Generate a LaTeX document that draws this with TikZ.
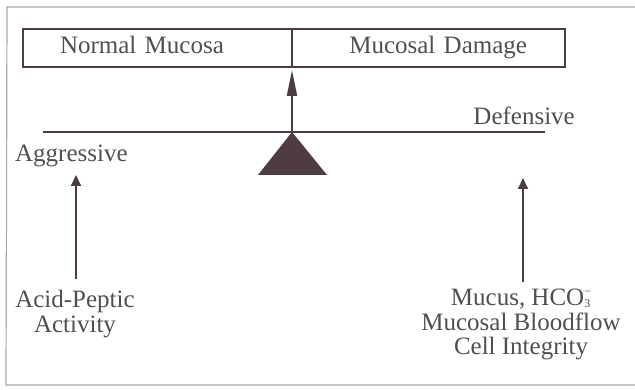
\documentclass[tikz,border=0pt]{standalone}
\usepackage{fontspec}
\setmainfont{Liberation Serif}
\usetikzlibrary{arrows.meta,positioning}
\definecolor{inkbrown}{RGB}{78,60,64}
\definecolor{textgrey}{RGB}{82,78,80}
\definecolor{framegrey}{RGB}{170,170,170}
\newcommand{\ionscript}[2]{\makebox[0pt][l]{\raisebox{-2pt}{\fontsize{12}{12}\selectfont #1}}%
  \raisebox{10pt}{\fontsize{12}{12}\selectfont #2}}
\tikzset{
  half/.style={draw=inkbrown,line width=2.6pt,minimum height=38pt,
               inner ysep=0pt,outer sep=0pt,text=textgrey,
               text height=17pt,text depth=6pt,
               font=\fontsize{25}{25}\selectfont},
  lbl/.style={text=textgrey,font=\fontsize{25}{25}\selectfont,inner sep=0pt},
  stack/.style={lbl,align=center,font=\fontsize{25}{24.5}\selectfont},
  arr/.style={-{Triangle[length=11pt,width=10pt]},line width=1.8pt,inkbrown},
  arrbig/.style={-{Triangle[length=26pt,width=10pt]},line width=2pt,inkbrown},
}

\begin{document}
\begin{tikzpicture}[x=1pt,y=-1pt]
    \useasboundingbox (0,0) rectangle (635,390);
    \draw[framegrey,line width=1.2pt] (635,7) -- (7,7) -- (6,385) -- (635,385);
    % outcome box
    \node[half,minimum width=269pt,text width=195pt,inner xsep=37pt,
          align=left] (normal) at (157.5,48) {Normal Mucosa};
    \node[half,minimum width=273pt,text width=197pt,inner xsep=38pt,
          align=right,right=0pt of normal] (damage) {Mucosal Damage};
    % balance
    \coordinate (beamL) at (43,132);
    \coordinate (beamR) at (545,132);
    \coordinate (pivot) at (292,132);
    \draw[inkbrown,line width=2.6pt] (beamL) -- (beamR);
    \fill[inkbrown] (pivot) -- ++(-34,43) -- ++(69,0) -- cycle;
    \draw[arrbig,shorten >=3pt] (pivot) -- (normal.south east);
    \node[lbl,anchor=base east] (def) at (575,125) {Defensive};
    \node[lbl,anchor=base west] (agg) at (15,162) {Aggressive};
    % factors
    \node[stack,anchor=north] (acid) at (75,290) {Acid-Peptic\\Activity};
    \node[stack,anchor=north] (defs) at (521,289)
      {Mucus, HCO\ionscript{3}{−}\\Mucosal Bloodflow\\Cell Integrity};
    \coordinate (aggtip) at (76,175);
    \coordinate (deftip) at (523,178);
    \draw[arr,shorten <=11pt] (acid.north -| aggtip) -- (aggtip);
    \draw[arr,shorten <=7pt] (defs.north -| deftip) -- (deftip);
  \end{tikzpicture}
\end{document}
